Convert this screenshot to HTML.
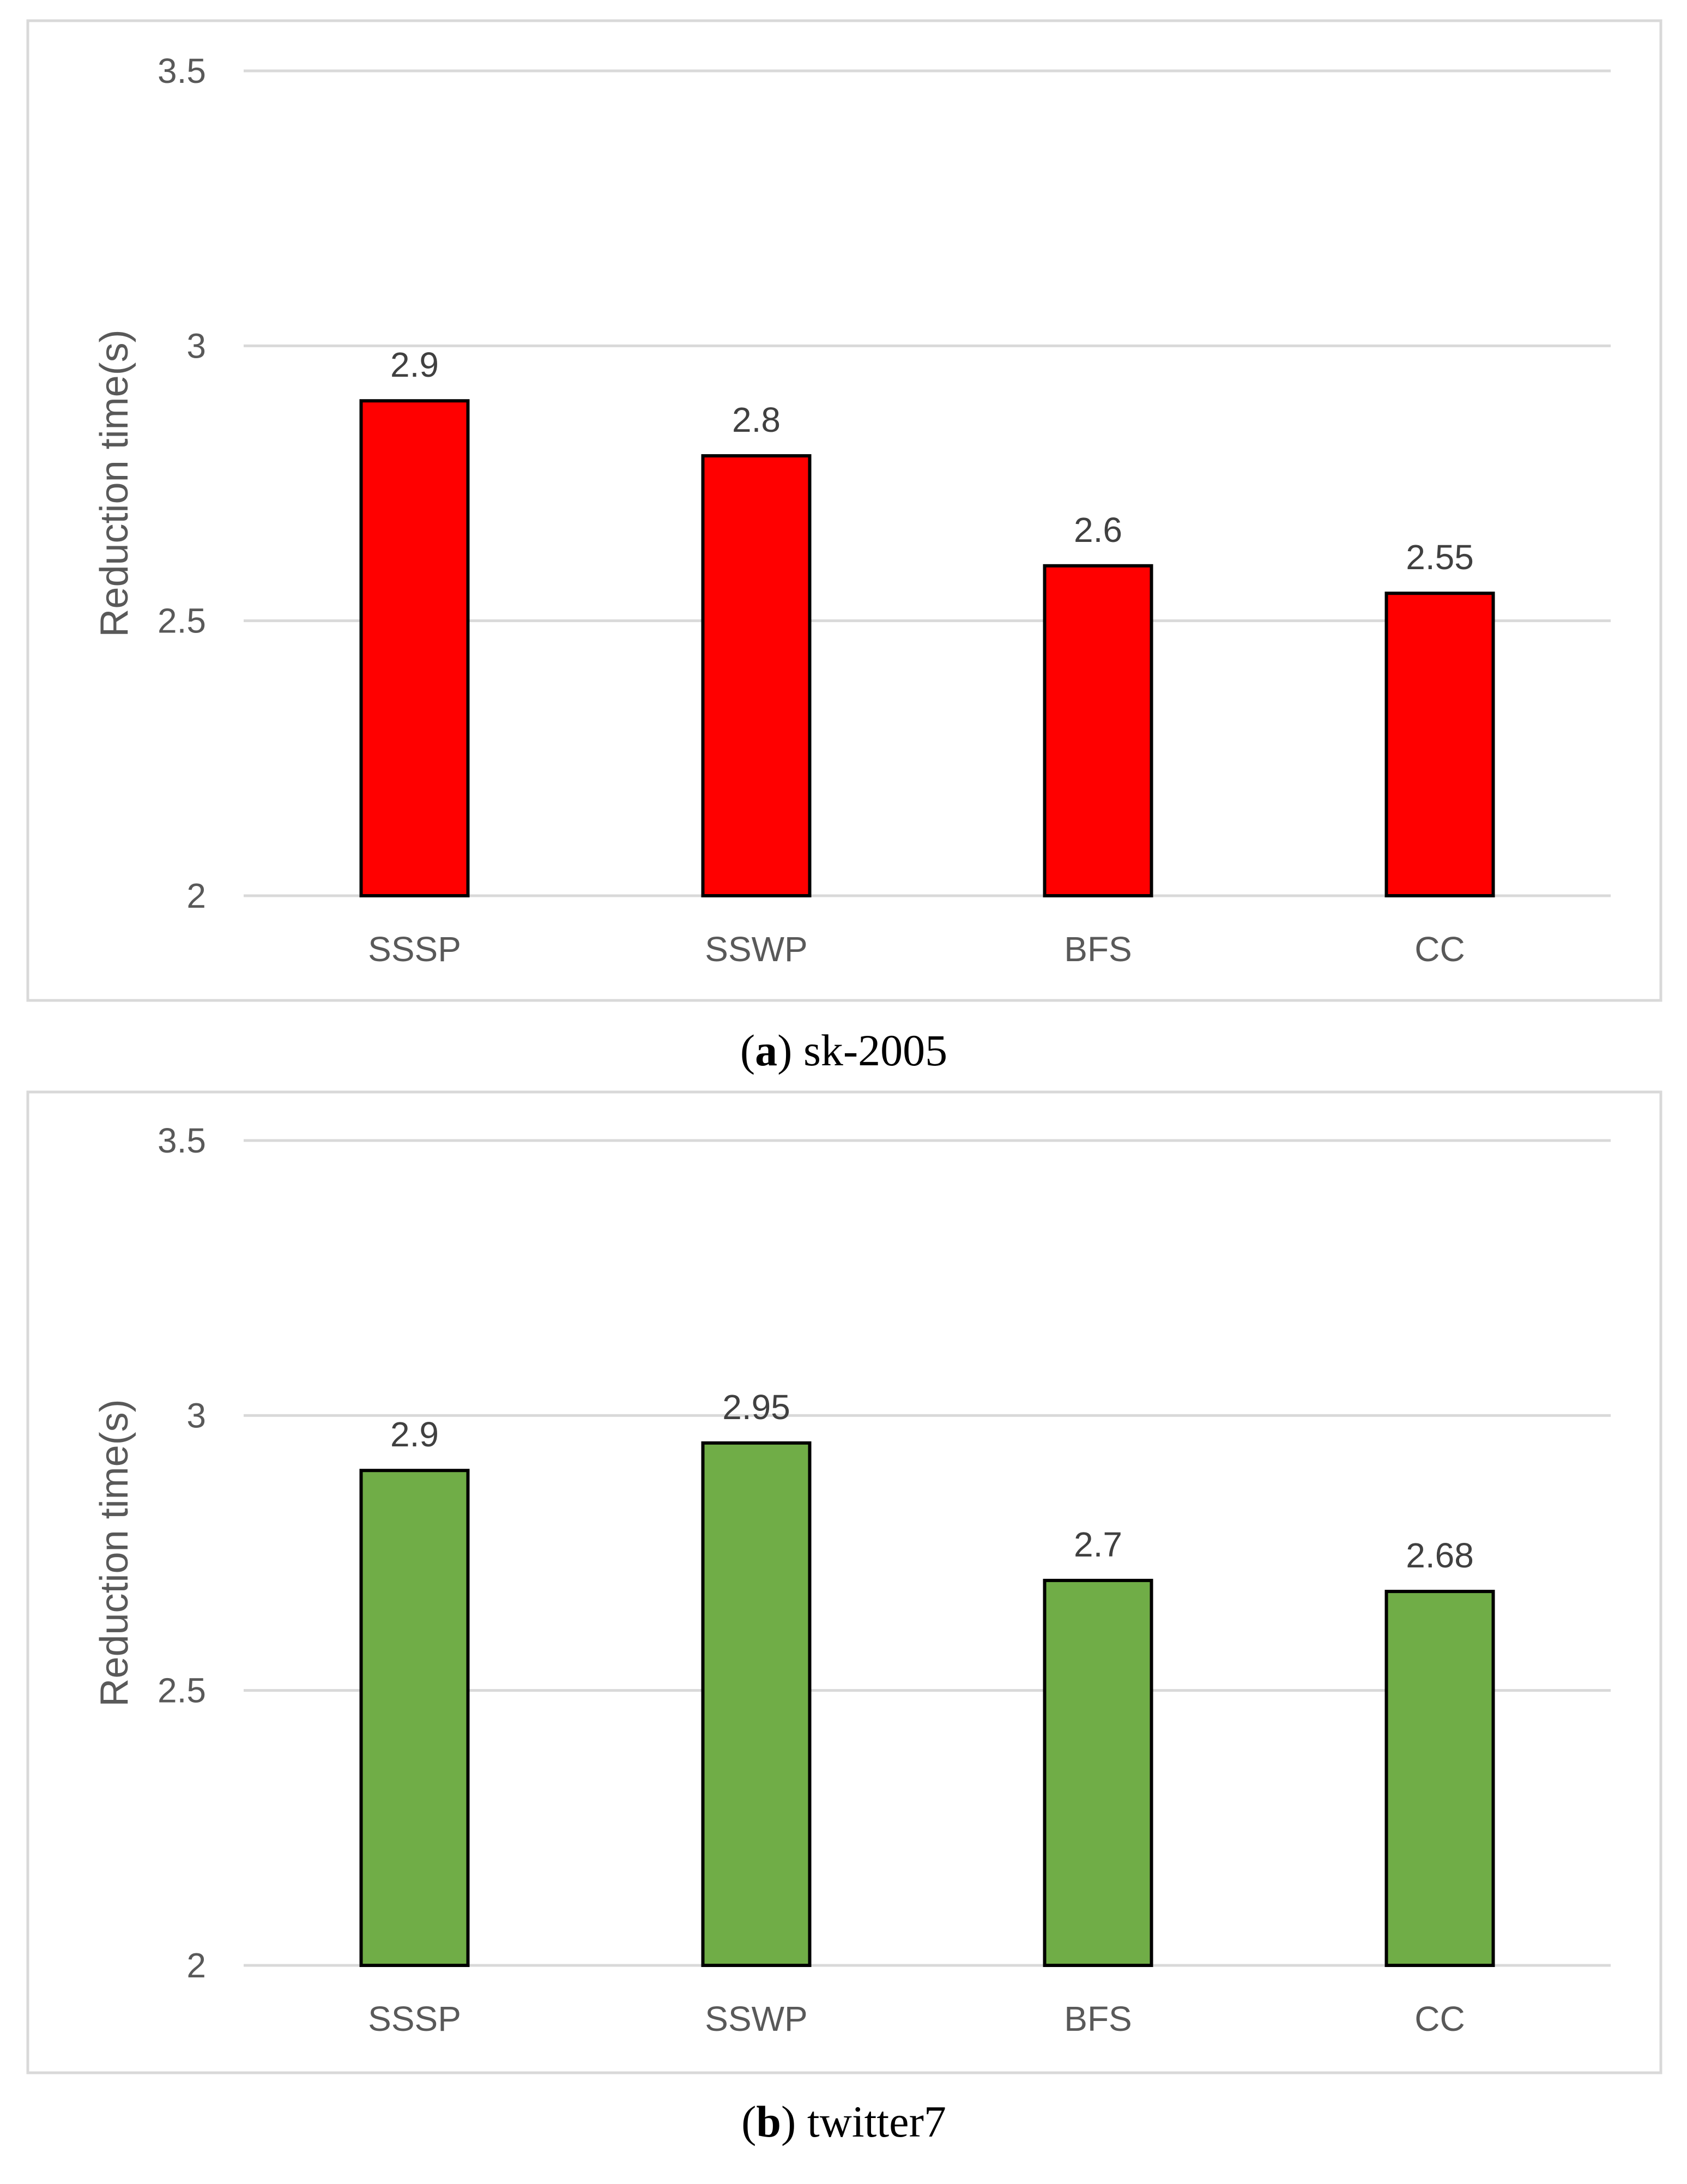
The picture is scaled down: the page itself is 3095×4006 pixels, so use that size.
<!DOCTYPE html>
<html><head><meta charset="utf-8"><style>
html,body{margin:0;padding:0;background:#fff;}
svg{display:block;}
</style></head><body>
<svg id="fig" width="3095" height="4006" xmlns="http://www.w3.org/2000/svg"></svg>
<script>
const categories = ["SSSP","SSWP","BFS","CC"];
const valuesA = [2.9, 2.8, 2.6, 2.55];
const valuesB = [2.9, 2.95, 2.7, 2.68];
const labelsA = ["2.9","2.8","2.6","2.55"];
const labelsB = ["2.9","2.95","2.7","2.68"];
const yTicks = [2, 2.5, 3, 3.5];
const yTickLabels = ["2","2.5","3","3.5"];

const NS = "http://www.w3.org/2000/svg";
const svg = document.getElementById("fig");
function mk(tag, attrs, parent){
  const e = document.createElementNS(NS, tag);
  for (const k in attrs) e.setAttribute(k, attrs[k]);
  (parent||svg).appendChild(e);
  return e;
}
function panel(cfg){
  const g = mk("g", {});
  
  
  const fr = mk("rect", {x:cfg.fx, y:cfg.fy, width:cfg.fw, height:cfg.fh, fill:"#fff", stroke:"#d9d9d9", "stroke-width":5}, g);
  
  
  const x0 = 447, x1 = 2955;
  const yScale = v => cfg.y2 - (v - 2) / 1.5 * (cfg.y2 - cfg.y35);
  const band = (x1 - x0) / categories.length;
  const xScale = i => x0 + band * (i + 0.5);
  yTicks.forEach((t, i) => {
    const y = yScale(t);
    const l = mk("line", {x1:x0, x2:x1, y1:y, y2:y, stroke:"#d9d9d9", "stroke-width":5}, g);
    
    
    const tx = mk("text", {x:378, y:y+22, "text-anchor":"end", "font-family":"Liberation Sans, sans-serif", "font-size":64, fill:"#595959"}, g);
    tx.textContent = yTickLabels[i];
    
    
  });
  const bw = 196;
  cfg.values.forEach((v, i) => {
    const cx = xScale(i);
    const top = yScale(v), base = yScale(2);
    const r = mk("rect", {x:cx-bw/2, y:top, width:bw, height:base-top, fill:cfg.color, stroke:"#000", "stroke-width":6}, g);
    
    
    const vl = mk("text", {x:cx, y:top-44, "text-anchor":"middle", "font-family":"Liberation Sans, sans-serif", "font-size":64, fill:"#404040"}, g);
    vl.textContent = cfg.labels[i];
    
    
    const cl = mk("text", {x:cx, y:base+120, "text-anchor":"middle", "font-family":"Liberation Sans, sans-serif", "font-size":64, fill:"#595959"}, g);
    cl.textContent = categories[i];
    
    
  });
  const ty = (cfg.y2 + cfg.y35) / 2;
  const at = mk("text", {x:0, y:0, transform:`translate(234,${ty}) rotate(-90)`, "text-anchor":"middle", "font-family":"Liberation Sans, sans-serif", "font-size":72, fill:"#595959"}, g);
  at.textContent = "Reduction time(s)";
  
  
  const cap = mk("text", {x:1548, y:cfg.capY, "text-anchor":"middle", "font-family":"Liberation Serif, serif", "font-size":82, fill:"#000"}, g);
  
  
  const b1 = mk("tspan", {}, cap); b1.textContent = "(";
  const b2 = mk("tspan", {"font-weight":"bold"}, cap); b2.textContent = cfg.letter;
  const b3 = mk("tspan", {}, cap); b3.textContent = ") " + cfg.title;
}
panel({name:"chart-sk-2005", fx:51, fy:38, fw:2996, fh:1797, y35:130, y2:1643, values:valuesA, labels:labelsA, color:"#ff0000", capY:1954, letter:"a", title:"sk-2005"});
panel({name:"chart-twitter7", fx:51, fy:2003, fw:2996, fh:1799, y35:2092, y2:3605, values:valuesB, labels:labelsB, color:"#70ad47", capY:3919, letter:"b", title:"twitter7"});
</script>
</body></html>
